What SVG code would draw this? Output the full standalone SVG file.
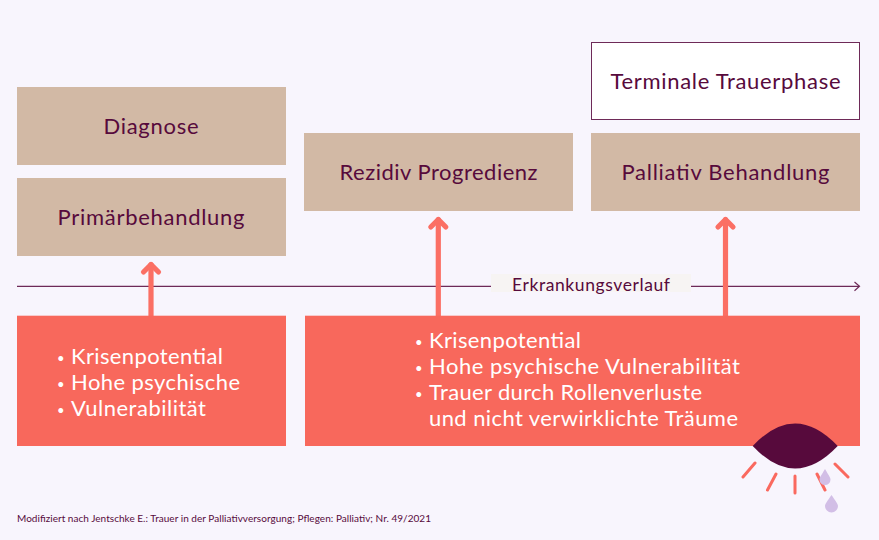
<svg xmlns="http://www.w3.org/2000/svg" width="879" height="540" viewBox="0 0 879 540">
<style>
.t{font-family:"Lato","Noto Sans",sans-serif}
.h{font-size:22px;fill:#570a3c}
.w{font-size:22px;fill:#fff}
.u{font-size:13px;fill:#fff}
.b{fill:#d2b9a5}
.r{fill:#f8685c}
.a{fill:none;stroke:#fb6f64;stroke-width:5.200;stroke-linecap:round;stroke-linejoin:round}
.s{fill:none;stroke:#fa695f;stroke-width:3;stroke-linecap:round}
.d{fill:#d2bee6}
</style>
<rect width="879" height="540" fill="#f8f5fd"/>
<g id="connectors">
<path d="M17 286.300H859" fill="none" stroke="#6e2a58" stroke-width="1.200"/>
<path d="M854.500 282L859.500 286.300L854.500 290.700" fill="none" stroke="#6e2a58" stroke-width="1.200"/>
<path class="a" d="M151 316V264.500"/><path class="a" d="M143.500 272L151 264.500L158.500 272"/>
<path class="a" d="M438.300 316V219.500"/><path class="a" d="M430.800 227L438.300 219.500L445.800 227"/>
<path class="a" d="M725.500 316V219.500"/><path class="a" d="M718 227L725.500 219.500L733 227"/>
</g>
<g id="diagnose"><rect class="b" x="17" y="87" width="269" height="78"/><text class="t h" x="103.500" y="134" textLength="95">Diagnose</text></g>
<g id="primaer"><rect class="b" x="17" y="178" width="269" height="78"/><text class="t h" x="57.500" y="225" textLength="187">Primärbehandlung</text></g>
<g id="rezidiv"><rect class="b" x="304" y="133" width="269" height="78"/><text class="t h" x="339.500" y="180" textLength="198">Rezidiv Progredienz</text></g>
<g id="palliativ"><rect class="b" x="591" y="133" width="269" height="78"/><text class="t h" x="621.500" y="180" textLength="208">Palliativ Behandlung</text></g>
<g id="terminal"><rect x="591.500" y="42.500" width="268" height="77" fill="#fff" stroke="#6e2a58" stroke-width="1"/><text class="t h" x="610.500" y="89" textLength="230">Terminale Trauerphase</text></g>
<g id="verlauf"><rect x="491" y="274" width="200" height="18" fill="#f7f4f3"/><text class="t" x="512" y="291" font-size="17.500" fill="#570a3c" textLength="158">Erkrankungsverlauf</text></g>
<g id="left"><rect class="r" x="17" y="315.700" width="269" height="130.300"/>
<text class="t u" x="57" y="363">•</text><text class="t u" x="57" y="389">•</text><text class="t u" x="57" y="415">•</text>
<text class="t w" x="71" y="364" textLength="152">Krisenpotential</text>
<text class="t w" x="71" y="390" textLength="169">Hohe psychische</text>
<text class="t w" x="71" y="416" textLength="135">Vulnerabilität</text></g>
<g id="right"><rect class="r" x="305" y="315.700" width="555" height="130.300"/>
<text class="t u" x="415" y="347">•</text><text class="t u" x="415" y="373">•</text><text class="t u" x="415" y="399">•</text>
<text class="t w" x="429" y="348" textLength="152">Krisenpotential</text>
<text class="t w" x="429" y="374" textLength="311">Hohe psychische Vulnerabilität</text>
<text class="t w" x="429" y="400" textLength="273">Trauer durch Rollenverluste</text>
<text class="t w" x="429" y="426" textLength="309">und nicht verwirklichte Träume</text></g>
<g id="eye">
<path d="M752.700 446Q795 401 837.700 446Q795 491 752.700 446Z" fill="#570a3c"/>
<path class="s" d="M755 463L743 477M776 474L767.500 490M795 476V493M817 474L825 490M835 464L848 477"/>
<path class="d" d="M825 469C821.500 475 819.500 477.500 819.500 479.500A5.300 5.300 0 0 0 830.500 479.500C830.500 477.500 828.500 475 825 469Z"/>
<path class="d" d="M831.500 495C827.500 501 825 504 825 506A6.300 6.300 0 0 0 838 506C838 504 835.500 501 831.500 495Z"/>
</g>
<text class="t" x="17" y="522" font-size="10" fill="#570a3c" textLength="414">Modifiziert nach Jentschke E.: Trauer in der Palliativversorgung; Pflegen: Palliativ; Nr. 49/2021</text>
</svg>
